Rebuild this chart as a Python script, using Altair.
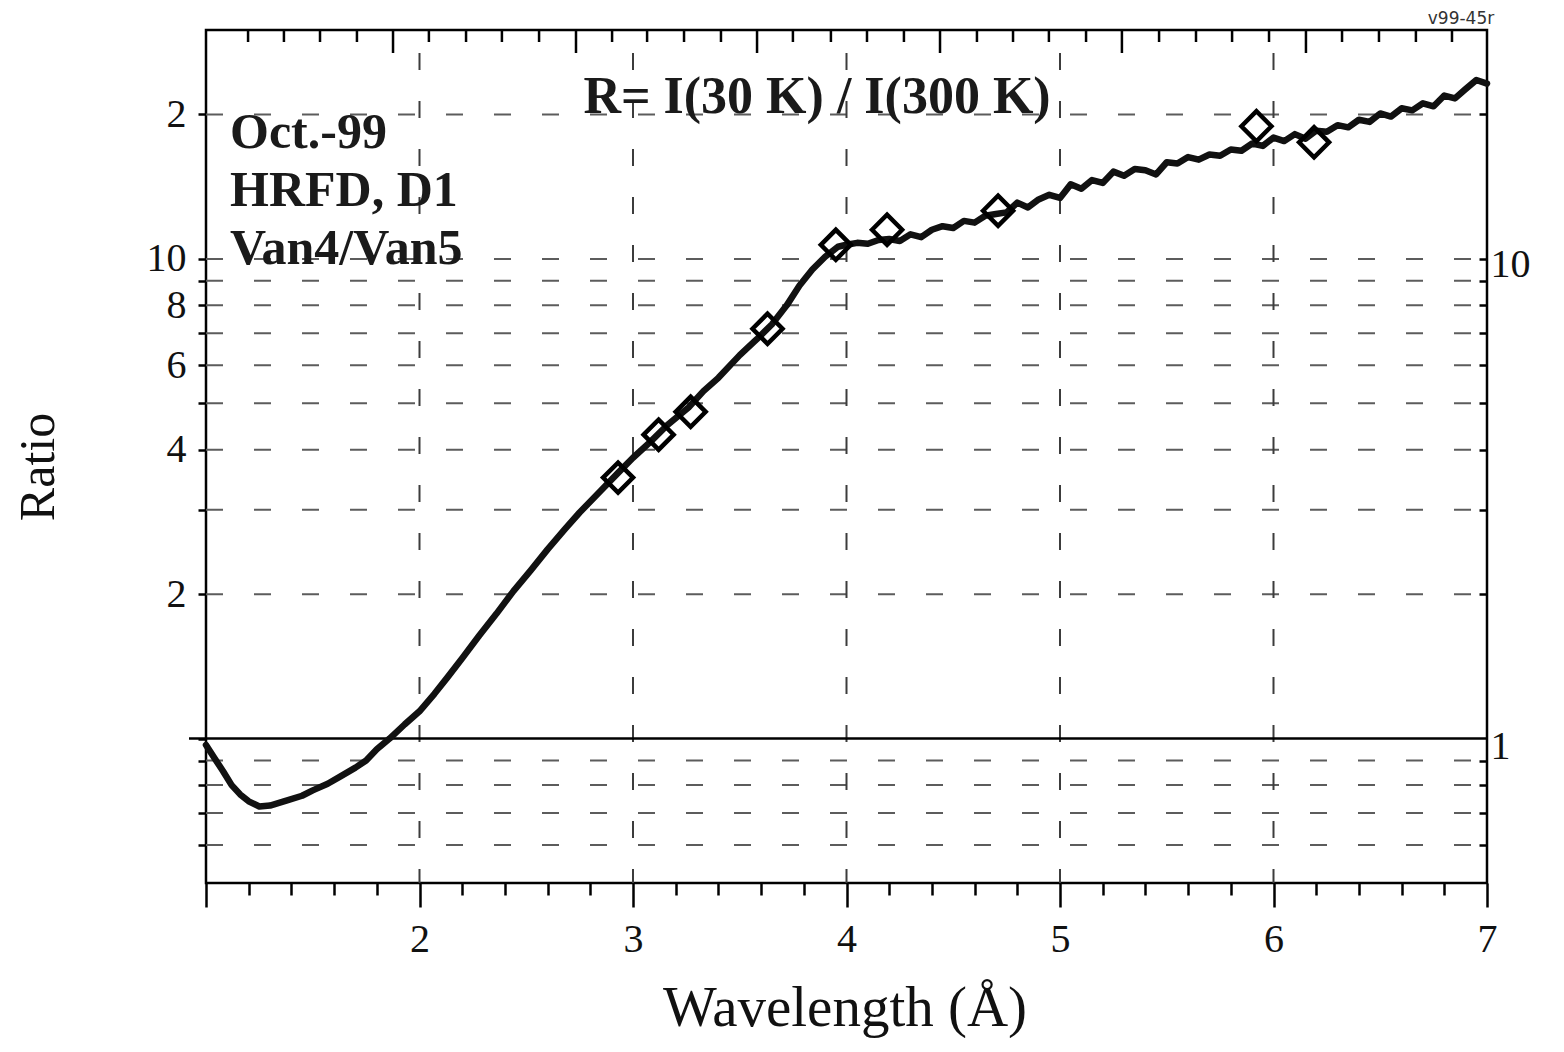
import altair as alt
import pandas as pd

# ---------------- data ----------------
wavelength = [1.00, 1.04, 1.08, 1.12, 1.16, 1.20, 1.25, 1.30, 1.38, 1.45, 1.50, 1.57, 1.63,
              1.70, 1.75, 1.80, 1.86, 1.93, 2.00, 2.07, 2.13, 2.20, 2.28, 2.36, 2.44, 2.52,
              2.60, 2.68, 2.75, 2.85, 2.93, 3.00, 3.08, 3.16, 3.26, 3.33, 3.40, 3.50, 3.58,
              3.65, 3.72, 3.78, 3.84, 3.90, 3.96,
              4.00, 4.05, 4.10, 4.15, 4.20, 4.25, 4.30, 4.35, 4.40, 4.45, 4.50, 4.55, 4.60,
              4.65, 4.70, 4.75, 4.80, 4.85, 4.90, 4.95, 5.00, 5.05, 5.10, 5.15, 5.20, 5.25,
              5.30, 5.35, 5.40, 5.45, 5.50, 5.55, 5.60, 5.65, 5.70, 5.75, 5.80, 5.85, 5.90,
              5.95, 6.00, 6.05, 6.10, 6.15, 6.20, 6.25, 6.30, 6.35, 6.40, 6.45, 6.50, 6.55,
              6.60, 6.65, 6.70, 6.75, 6.80, 6.85, 6.90, 6.95, 7.00]
ratio = [0.97, 0.91, 0.855, 0.80, 0.765, 0.74, 0.722, 0.725, 0.743, 0.76, 0.78, 0.805, 0.834,
         0.87, 0.90, 0.95, 1.0, 1.07, 1.14, 1.24, 1.34, 1.47, 1.64, 1.82, 2.03, 2.24,
         2.48, 2.73, 2.96, 3.29, 3.58, 3.85, 4.15, 4.5, 4.9, 5.3, 5.65, 6.3, 6.8,
         7.3, 8.0, 8.8, 9.5, 10.1, 10.6,
         10.7, 10.8, 10.75, 10.95, 11.0, 10.9, 11.25, 11.1, 11.5, 11.7, 11.6, 12.0, 11.9,
         12.3, 12.4, 12.5, 13.1, 12.8, 13.3, 13.6, 13.4, 14.3, 14.0, 14.6, 14.4, 15.2,
         14.9, 15.4, 15.3, 15.0, 15.9, 15.8, 16.3, 16.1, 16.5, 16.4, 16.9, 16.8, 17.4,
         17.2, 17.9, 17.6, 18.2, 17.8, 18.5, 18.4, 19.0, 18.8, 19.5, 19.3, 20.1, 19.8,
         20.6, 20.4, 21.1, 20.8, 21.9, 21.6, 22.6, 23.6, 23.2]

diamond_wl = [2.93, 3.12, 3.27, 3.63, 3.95, 4.19, 4.71, 5.92, 6.19]
diamond_ratio = [3.5, 4.3, 4.8, 7.15, 10.7, 11.5, 12.6, 18.9, 17.5]

# axes / grid values
x_major = [1, 2, 3, 4, 5, 6, 7]
x_major_labels = ["", "2", "3", "4", "5", "6", "7"]
x_minor = [1.2, 1.4, 1.6, 1.8, 2.2, 2.4, 2.6, 2.8, 3.2, 3.4, 3.6, 3.8, 4.2, 4.4, 4.6, 4.8,
           5.2, 5.4, 5.6, 5.8, 6.2, 6.4, 6.6, 6.8]
x_grid = [2, 3, 4, 5, 6]
top_minor = [1.197, 1.365, 1.534, 1.707, 2.044, 2.218, 2.386, 2.560, 2.902, 3.066, 3.239,
             3.412, 3.749, 3.927, 4.096, 4.269, 4.611, 4.780, 4.948, 5.122, 5.464, 5.637,
             5.806, 5.979, 6.321, 6.494, 6.667, 6.836]
top_major = [1.876, 2.733, 3.581, 4.438, 5.290, 6.152]
y_grid = [20, 10, 9, 8, 7, 6, 5, 4, 3, 2, 0.9, 0.8, 0.7, 0.6]
y_left_ticks = [20, 10, 9, 8, 7, 6, 5, 4, 3, 2, 1, 0.9, 0.8, 0.7, 0.6]
y_left_label_vals = [20, 10, 8, 6, 4, 2]
y_left_label_text = ["2", "10", "8", "6", "4", "2"]
y_right_label_vals = [10, 1]
y_right_label_text = ["10", "1"]
ref_line = [1]

title_text = "R= I(30 K) / I(300 K)"
annotation = ["Oct.-99", "HRFD, D1", "Van4/Van5"]
corner_tag = "v99-45r"
x_title = "Wavelength (Å)"
y_title = "Ratio"

# ---------------- layout ----------------
W, H = 1281, 853
SERIF = "Liberation Serif"


def label_expr(vals, texts):
    parts = "".join(f"datum.value == {v} ? '{t}' : " for v, t in zip(vals, texts))
    return parts + "''"


xs = alt.Scale(domain=[1, 7], nice=False, zero=False)
ys = alt.Scale(type="log", domain=[0.5, 30], nice=False)

curve_df = pd.DataFrame({"wl": wavelength, "r": ratio})
dia_df = pd.DataFrame({"wl": diamond_wl, "r": diamond_ratio})

hgrid = alt.Chart(pd.DataFrame({"g": y_grid})).mark_rule(
    color="#5c5c5c", strokeWidth=2, strokeDash=[17, 31]
).encode(
    y=alt.Y("g:Q", scale=ys, axis=None),
    x=alt.value(0), x2=alt.value(W),
)

vgrid = alt.Chart(pd.DataFrame({"g": x_grid})).mark_rule(
    color="#3c3c3c", strokeWidth=2, strokeDash=[17, 31], strokeDashOffset=25
).encode(
    x=alt.X("g:Q", scale=xs, axis=None),
    y=alt.value(0), y2=alt.value(H),
)

one_line = alt.Chart(pd.DataFrame({"v": ref_line})).mark_rule(
    color="black", strokeWidth=2.5
).encode(
    y=alt.Y("v:Q", scale=ys, axis=None),
    x=alt.value(-17), x2=alt.value(W),
)

top_min = alt.Chart(pd.DataFrame({"t": top_minor})).mark_rule(
    color="black", strokeWidth=2.5
).encode(
    x=alt.X("t:Q", scale=xs, axis=None),
    y=alt.value(0), y2=alt.value(12),
)
top_maj = alt.Chart(pd.DataFrame({"t": top_major})).mark_rule(
    color="black", strokeWidth=2.5
).encode(
    x=alt.X("t:Q", scale=xs, axis=None),
    y=alt.value(0), y2=alt.value(23),
)

curve = alt.Chart(curve_df).mark_line(
    color="#111111", strokeWidth=6.5, strokeJoin="round", strokeCap="round"
).encode(
    x=alt.X("wl:Q", scale=xs, axis=alt.Axis(
        orient="bottom", values=x_major, labelExpr=label_expr(x_major, x_major_labels),
        tickSize=24, tickWidth=2.5, tickColor="black", domain=False, grid=False,
        labelFont=SERIF, labelFontSize=40, labelColor="#111", labelPadding=12,
        labelFlush=False, labelOverlap=False, title=None)),
    y=alt.Y("r:Q", scale=ys, axis=alt.Axis(
        orient="left", values=y_left_ticks,
        labelExpr=label_expr(y_left_label_vals, y_left_label_text),
        tickSize=8, tickWidth=2.5, tickColor="black", domain=False, grid=False,
        labelFont=SERIF, labelFontSize=40, labelColor="#111", labelPadding=12,
        labelFlush=False, labelOverlap=False, title=None)),
    order="wl:Q",
)

diamonds = alt.Chart(dia_df).mark_point(
    shape="diamond", size=900, filled=False, stroke="black", strokeWidth=4.5, opacity=1
).encode(
    x=alt.X("wl:Q", scale=xs, axis=alt.Axis(
        orient="bottom", values=x_minor, labels=False, tickSize=12, tickWidth=2.5,
        tickColor="black", domain=False, grid=False, title=None)),
    y=alt.Y("r:Q", scale=ys, axis=alt.Axis(
        orient="right", values=y_grid, offset=-8,
        labelExpr=label_expr(y_right_label_vals, y_right_label_text),
        tickSize=8, tickWidth=2.5, tickColor="black", domain=False, grid=False,
        labelFont=SERIF, labelFontSize=40, labelColor="#111", labelPadding=3,
        labelOffset=6, labelFlush=False, labelOverlap=False, title=None)),
)
# the right axis needs the value 1 to carry its label as well
right_one = alt.Chart(pd.DataFrame({"v": ref_line})).mark_point(opacity=0).encode(
    y=alt.Y("v:Q", scale=ys, axis=alt.Axis(
        orient="right", values=ref_line, offset=-8,
        labelExpr=label_expr(y_right_label_vals, y_right_label_text),
        ticks=False, domain=False, grid=False,
        labelFont=SERIF, labelFontSize=40, labelColor="#111", labelPadding=11,
        labelOffset=8, labelFlush=False, labelOverlap=False, title=None)),
    x=alt.value(0),
)

title_mark = alt.Chart(pd.DataFrame({"t": [title_text]})).mark_text(
    font=SERIF, fontSize=52, fontWeight="bold", color="#1a1a1a", align="center",
    baseline="alphabetic"
).encode(text="t:N", x=alt.value(611), y=alt.value(83))

annot_mark = alt.Chart(pd.DataFrame({"t": ["\n".join(annotation)]})).mark_text(
    font=SERIF, fontSize=50, fontWeight="bold", color="#1a1a1a", align="left",
    baseline="alphabetic", lineBreak="\n", lineHeight=58
).encode(text="t:N", x=alt.value(24), y=alt.value(118))

tag_mark = alt.Chart(pd.DataFrame({"t": [corner_tag]})).mark_text(
    font="DejaVu Sans", fontSize=17, color="#333333", align="center", baseline="alphabetic"
).encode(text="t:N", x=alt.value(1255), y=alt.value(-6))

xtitle_mark = alt.Chart(pd.DataFrame({"t": [x_title]})).mark_text(
    font=SERIF, fontSize=57, color="#111111", align="center", baseline="alphabetic"
).encode(text="t:N", x=alt.value(639), y=alt.value(996))

ytitle_mark = alt.Chart(pd.DataFrame({"t": [y_title]})).mark_text(
    font=SERIF, fontSize=50, color="#111111", align="center", baseline="middle", angle=270
).encode(text="t:N", x=alt.value(-167), y=alt.value(437))

chart = alt.layer(
    hgrid, vgrid, one_line, top_min, top_maj, curve, diamonds, right_one,
    title_mark, annot_mark, tag_mark, xtitle_mark, ytitle_mark
).resolve_axis(
    x="independent", y="independent"
).properties(
    width=W, height=H,
    autosize=alt.AutoSizeParams(type="none"),
    padding={"left": 198, "top": 22, "right": 60, "bottom": 155},
    background="white",
).configure_view(
    stroke="black", strokeWidth=2.5
)

chart.save("out.html", embed_options={"renderer": "svg", "actions": False})
